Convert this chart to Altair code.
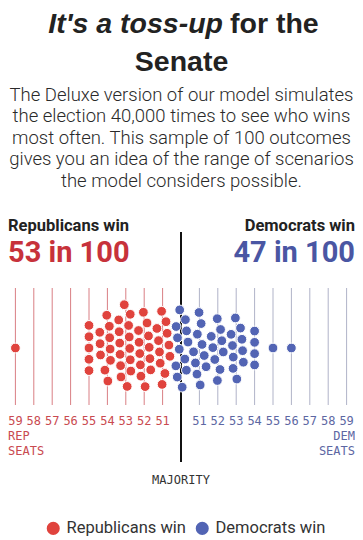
import altair as alt
import pandas as pd
import numpy as np

# ---------------- data ----------------
rep_seats = [59, 58, 57, 56, 55, 54, 53, 52, 51]
rep_counts = [1, 0, 0, 0, 5, 10, 14, 12, 11]
dem_seats = [50, 51, 52, 53, 54, 55, 56, 57, 58, 59]
dem_counts = [12, 10, 9, 10, 4, 1, 1, 0, 0, 0]
tick_seats = [51, 52, 53, 54, 55, 56, 57, 58, 59]
rep_wins = 53
dem_wins = 47
n_outcomes = 100
parties = ["Republicans win", "Democrats win"]

title_italic = "It's a toss-up"
title_rest = "for the"
title_line2 = "Senate"
subtitle = [
    "The Deluxe version of our model simulates",
    "the election 40,000 times to see who wins",
    "most often. This sample of 100 outcomes",
    "gives you an idea of the range of scenarios",
    "the model considers possible.",
]

# ---------------- layout / style ----------------
W, H = 347, 532
S = 18.4          # px per seat column
X0 = 173          # px of majority line
RED, BLUE = "#e0433d", "#5264b4"
RED_TXT, BLUE_TXT = "#c7323b", "#4a56a3"
RED_LINE, BLUE_LINE = "#d97f84", "#b0b3c8"
RED_LAB, BLUE_LAB = "#c94a50", "#5d67a3"
DOT_CY = 340
D = 11.3
SANS = "Roboto"
MONO = "DejaVu Sans Mono"

# ---------------- swarm layout (computed) ----------------
pos, party = [], []
for s, c in zip(rep_seats, rep_counts):
    pos += [-(s - 50)] * c
    party += [parties[0]] * c
for s, c in zip(dem_seats, dem_counts):
    pos += [s - 50] * c
    party += [parties[1]] * c

tx = np.array(pos, float) * S
xs = tx.copy()
ys = np.zeros(len(tx))
for p in sorted(set(pos)):
    members = [i for i, v in enumerate(pos) if v == p]
    n = len(members)
    for k, i in enumerate(members):
        ys[i] = (k - (n - 1) / 2) * D * 0.8
        xs[i] = tx[i] + (((k + 1) * 0.618034) % 1 - 0.5) * 0.8 * D


def collide(xs, ys, strength=0.5):
    dx = xs[:, None] - xs[None, :]
    dy = ys[:, None] - ys[None, :]
    d = np.sqrt(dx ** 2 + dy ** 2)
    np.fill_diagonal(d, np.inf)
    d = np.maximum(d, 1e-6)
    ov = np.clip(D - d, 0, None)
    f = np.where(ov > 0, ov / d * strength, 0)
    return xs + (dx * f).sum(1), ys + (dy * f).sum(1)


for it in range(500):
    xs += (tx - xs) * 0.15
    ys += (-ys) * 0.009
    for _ in range(3):
        xs, ys = collide(xs, ys)
for _ in range(30):
    xs, ys = collide(xs, ys)

dots = pd.DataFrame({"x": xs / S, "y": DOT_CY + ys, "party": party})

xscale = alt.Scale(domain=[-X0 / S, (W - X0) / S], nice=False, zero=False)
yscale = alt.Scale(domain=[0, H], reverse=True, nice=False, zero=False)
X = lambda f: alt.X(f, scale=xscale, axis=None)


def txt(t, x, y, align="left", size=13, weight="normal", color="#333",
        font=SANS, style="normal", baseline="middle"):
    return alt.Chart(pd.DataFrame({"t": [t]})).mark_text(
        align=align, baseline=baseline, fontSize=size, fontWeight=weight,
        color=color, font=font, fontStyle=style
    ).encode(x=alt.value(x), y=alt.value(y), text="t:N")


layers = []
# title
layers.append(txt(title_italic, 215, 25, "right", 28.5, "bold", "#222",
                  "Liberation Sans", "italic", "alphabetic"))
layers.append(txt(title_rest, 222, 25, "left", 28.5, "bold", "#222",
                  "Liberation Sans", "normal", "alphabetic"))
layers.append(txt(title_line2, 173.5, 63, "center", 28.5, "bold", "#222",
                  "Liberation Sans", "normal", "alphabetic"))
for i, line in enumerate(subtitle):
    layers.append(txt(line, 173.5, 87 + i * 21.4, "center", 18.5, 300, "#2a2a2a"))

layers.append(txt(parties[0], 0, 218, "left", 16.5, "bold", "#222"))
layers.append(txt(parties[1], W, 218, "right", 16.5, "bold", "#222"))
layers.append(txt(f"{rep_wins} in {n_outcomes}", 0, 245, "left", 29, "bold", RED_TXT))
layers.append(txt(f"{dem_wins} in {n_outcomes}", W, 245, "right", 29, "bold", BLUE_TXT))

# column lines
rep_lines = pd.DataFrame({"x": [-(s - 50) for s in tick_seats], "lab": [str(s) for s in tick_seats]})
dem_lines = pd.DataFrame({"x": [s - 50 for s in tick_seats], "lab": [str(s) for s in tick_seats]})
for df, col in [(rep_lines, RED_LINE), (dem_lines, BLUE_LINE)]:
    layers.append(alt.Chart(df).mark_rule(color=col, strokeWidth=1).encode(
        x=X("x:Q"), y=alt.Y(datum=280, scale=yscale, axis=None), y2=alt.Y2(datum=397)))
for df, col in [(rep_lines, RED_LAB), (dem_lines, BLUE_LAB)]:
    layers.append(alt.Chart(df).mark_text(font=MONO, fontSize=12, color=col, baseline="middle").encode(
        x=X("x:Q"), y=alt.Y(datum=413, scale=yscale, axis=None), text="lab:N"))

# majority line
layers.append(alt.Chart(pd.DataFrame({"x": [0]})).mark_rule(color="#111", strokeWidth=2).encode(
    x=X("x:Q"), y=alt.Y(datum=224, scale=yscale, axis=None), y2=alt.Y2(datum=454)))

layers.append(txt("REP", 0, 428, "left", 12, "normal", RED_LAB, MONO))
layers.append(txt("SEATS", 0, 443, "left", 12, "normal", RED_LAB, MONO))
layers.append(txt("DEM", W, 428, "right", 12, "normal", BLUE_LAB, MONO))
layers.append(txt("SEATS", W, 443, "right", 12, "normal", BLUE_LAB, MONO))
layers.append(alt.Chart(pd.DataFrame({"x": [0], "t": ["MAJORITY"]})).mark_text(
    font=MONO, fontSize=12, color="#333", baseline="middle").encode(
    x=X("x:Q"), y=alt.value(472), text="t:N"))

# dots
layers.append(alt.Chart(dots).mark_circle(size=95, opacity=1, stroke="white", strokeWidth=1).encode(
    x=X("x:Q"),
    y=alt.Y("y:Q", scale=yscale, axis=None),
    color=alt.Color("party:N", scale=alt.Scale(domain=parties, range=[RED, BLUE]),
                    legend=alt.Legend(orient="none", legendX=37, legendY=512, direction="horizontal",
                                      title=None, labelFontSize=16.5, labelFont=SANS, labelColor="#333",
                                      symbolSize=170, symbolType="circle", symbolStrokeWidth=0,
                                      symbolOpacity=1, columnPadding=8, labelOffset=5)),
))

chart = alt.layer(*layers).properties(
    width=W, height=H, autosize=alt.AutoSizeParams(type="none"), padding=0
).configure_view(stroke=None)

chart.save("out.html", embed_options={"renderer": "svg", "actions": False})
